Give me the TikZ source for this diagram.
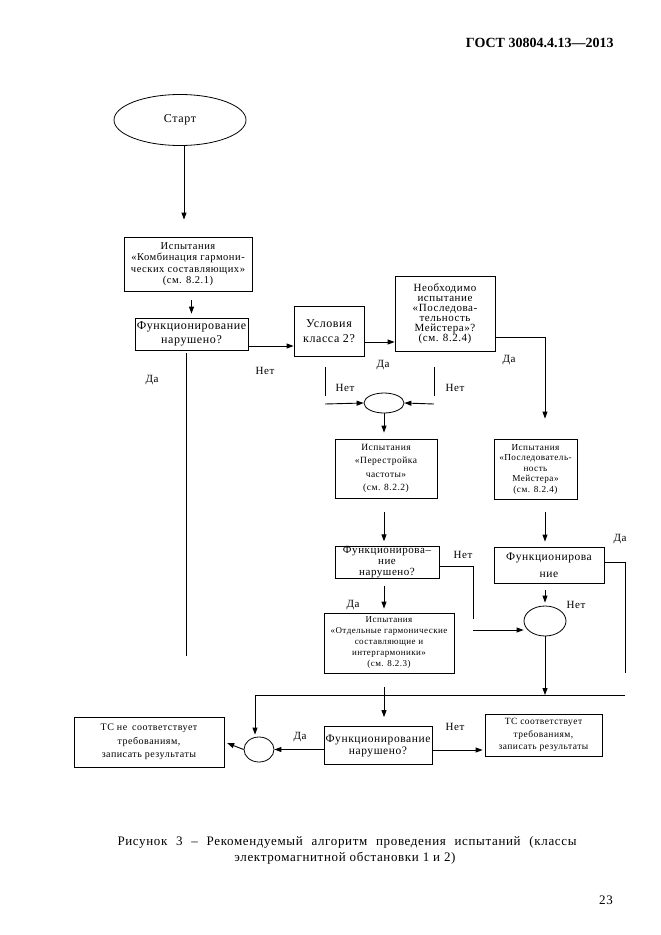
\documentclass[tikz,border=0pt]{standalone}
\usepackage{fontspec}
\setmainfont{Liberation Serif}[LetterSpace=5]
\newfontfamily\hdrfont{Liberation Serif}
\usetikzlibrary{arrows.meta,shapes.geometric,calc}
\newcommand\fsz[2]{\fontsize{#1}{#2}\selectfont}
\begin{document}
\begin{tikzpicture}[x=1pt,y=-1pt, line width=0.9pt,
  arr/.style={-{Triangle[length=7pt,width=5pt]}},
  box/.style={draw, line width=0.8pt, rectangle, inner sep=0pt, align=center},
  oval/.style={draw, line width=0.8pt, ellipse, inner sep=0pt},
  lab/.style={font=\fsz{11}{13}, inner sep=0pt}]
\useasboundingbox (0,0) rectangle (661,935);

% header
\node[font=\hdrfont\bfseries\fsz{14}{16}, anchor=east, inner sep=0pt] (hdr) at (614,43) {ГОСТ 30804.4.13—2013};

% nodes
\node[oval, minimum width=132pt, minimum height=51pt, font=\fsz{12}{14}] (start) at (180,120) {Старт};
\node[box, minimum width=128pt, minimum height=54pt, font=\fsz{10.5}{11.5}] (b1) at (188,264)
  {Испытания\\«Комбинация гармони-\\ческих составляющих»\\(см. 8.2.1)};
\node[box, minimum width=113pt, minimum height=32pt, font=\fsz{12}{14}] (f1) at (191.5,334)
  {Функционирование\\нарушено?};
\node[box, minimum width=70pt, minimum height=50pt, font=\fsz{12}{15}] (usl) at (329,331)
  {Условия\\класса 2?};
\node[box, minimum width=100pt, minimum height=75pt, font=\fsz{11}{10}] (neob) at (445,313.5)
  {Необходимо\\испытание\\«Последова-\\тельность\\Мейстера»?\\(см. 8.2.4)};
\node[oval, minimum width=40pt, minimum height=20pt] (e1) at (384,403) {};
\node[box, minimum width=102pt, minimum height=59pt, font=\fsz{9.5}{13.5}] (per) at (386,468.5)
  {Испытания\\«Перестройка\\частоты»\\(см. 8.2.2)};
\node[box, minimum width=83pt, minimum height=60pt, font=\fsz{9.2}{10.5}] (mt) at (535.5,469)
  {Испытания\\«Последователь-\\ность\\Мейстера»\\(см. 8.2.4)};
\node[box, minimum width=104pt, minimum height=31pt, font=\fsz{11}{11}] (f2) at (387,562.5)
  {Функционирова–\\ние\\нарушено?};
\node[box, minimum width=110pt, minimum height=36pt, font=\fsz{11.5}{17}] (f3) at (549,565)
  {Функционирова\\ние};
\node[oval, minimum width=42pt, minimum height=30pt] (e2) at (545,621) {};
\node[box, minimum width=130pt, minimum height=60pt, font=\fsz{9}{11}] (otd) at (389,643)
  {Испытания\\«Отдельные гармонические\\составляющие и\\интергармоники»\\(см. 8.2.3)};
\node[oval, minimum width=30pt, minimum height=25pt] (e3) at (259,749.5) {};
\node[box, minimum width=150pt, minimum height=50pt, font=\fsz{10}{13.5}] (tcn) at (149,742)
  {ТС не\enspace соответствует\\требованиям,\\записать результаты};
\node[box, minimum width=108pt, minimum height=38pt, font=\fsz{11.5}{12}] (f4) at (378,745.5)
  {Функционирование\\нарушено?};
\node[box, minimum width=117pt, minimum height=42pt, font=\fsz{9.5}{12.5}] (tcs) at (543.5,735)
  {ТС соответствует\\требованиям,\\записать результаты};

% labels
\node[lab] (l1) at (152,380) {Да};
\node[lab] (l2) at (265,371) {Нет};
\node[lab] (l3) at (383,365) {Да};
\node[lab] (l4) at (509,360) {Да};
\node[lab] (l5) at (345,388) {Нет};
\node[lab] (l6) at (455,388) {Нет};
\node[lab] (l7) at (463,555) {Нет};
\node[lab] (l8) at (620,539) {Да};
\node[lab] (l9) at (576,605) {Нет};
\node[lab] (l10) at (353,605) {Да};
\node[lab] (l11) at (300,737) {Да};
\node[lab] (l12) at (455,727) {Нет};

% free coordinates
\coordinate (L2) at (186,656);
\coordinate (vL1) at (325,367); \coordinate (vL2) at (325,396); \coordinate (aL) at (325,404);
\coordinate (vR1) at (434,367); \coordinate (vR2) at (434,396); \coordinate (aR) at (434,404);
\coordinate (k1) at (545,337);
\coordinate (d1) at (473,566); \coordinate (d2) at (473,619); \coordinate (a2) at (473,630);
\coordinate (r1) at (625,562); \coordinate (r2) at (625,673);
\coordinate (h1) at (625,695); \coordinate (h2) at (255,695);
\coordinate (j1) at (545,695);

% connectors
\draw[arr, shorten >=17pt] ([xshift=4pt]start.south) -- ([xshift=4pt]start.south |- b1.north);
\draw[arr, shorten <=9pt, shorten >=4pt] (b1.south -| f1) -- (f1.north);
\draw[shorten <=3pt] (f1.south -| L2) -- (L2);
\draw[arr] ([yshift=-12pt]f1.east) -- ([yshift=-12pt]f1.east -| usl.west);
\draw[arr] ([yshift=-11pt]usl.east) -- ([yshift=-11pt]usl.east -| neob.west);
\draw[arr, shorten >=20pt] ([yshift=-23.5pt]neob.east) -- (k1) -- (k1 |- mt.north);
\draw (vL1) -- (vL2);
\draw[arr] (aL) -- (e1.west);
\draw (vR1) -- (vR2);
\draw[arr] (aR) -- (e1.east);
\draw[arr, shorten >=6pt] (e1.south) -- (e1.south |- per.north);
\draw[arr, shorten <=14pt, shorten >=5pt] (per.south -| e1) -- (f2.north -| e1);
\draw[arr, shorten <=13pt, shorten >=5pt] (mt.south -| e2) -- (f3.north -| e2);
\draw[line width=0.6pt] ([yshift=-3.5pt]f2.east) -- (d1) -- (d2);
\draw[arr] (a2) -- (a2 -| e2.west);
\draw[line width=0.6pt] ([yshift=3pt]f3.east) -- (r1) -- (r2);
\draw[arr, shorten <=7pt, shorten >=3pt] (f3.south -| e2) -- (e2.north);
\draw[arr] (e2.south) -- (j1);
\draw[arr, shorten >=2pt] (h1) -- (h2) -- (h2 |- e3.north);
\draw[arr, shorten >=3pt] (e3.west) -- (tcn.east);
\draw[arr] ([yshift=-4pt]f4.west) -- (e3.east);
\draw[arr, shorten <=7pt, shorten >=4pt] (f2.south -| e1) -- (otd.north -| e1);
\draw[arr, shorten <=14pt, shorten >=9pt] (otd.south -| e1) -- (f4.north -| e1);
\draw[arr, shorten >=2pt] ([yshift=-4.5pt]f4.east) -- ([yshift=-4.5pt]f4.east -| tcs.west);

% caption
\node[font=\fsz{13}{16}, inner sep=0pt] (cap1) at (347,842)
  {\makebox[459pt][s]{Рисунок 3 – Рекомендуемый алгоритм проведения испытаний (классы}};
\node[font=\fsz{13}{16}, inner sep=0pt] (cap2) at (345,858) {электромагнитной обстановки 1 и 2)};
\node[font=\fsz{13}{16}, inner sep=0pt] (pg) at (606,900) {23};
\end{tikzpicture}
\end{document}
